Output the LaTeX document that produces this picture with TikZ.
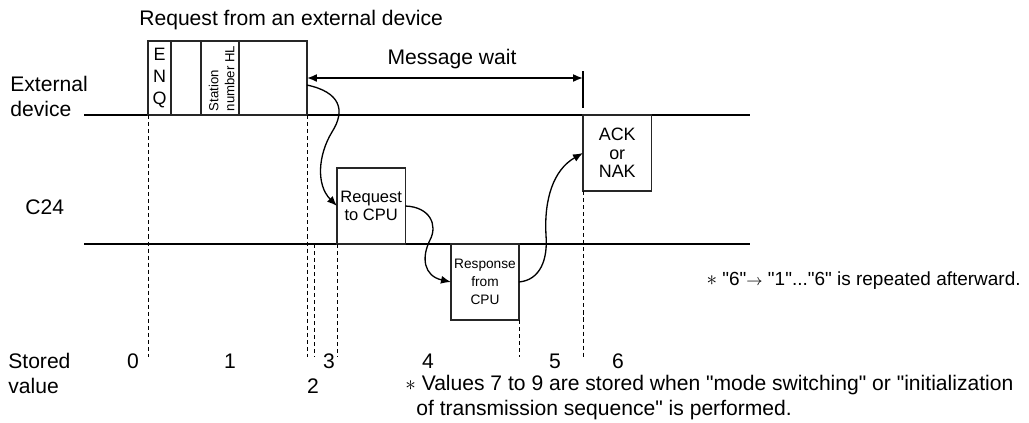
\documentclass[tikz,border=0pt]{standalone}
\usepackage{fontspec}
\setmainfont{Liberation Sans}[Ligatures=TeXOff]
\usetikzlibrary{arrows.meta,positioning}

\begin{document}
\begin{tikzpicture}[
    x=0.02cm, y=-0.02cm,
    font=\fontsize{12}{14.2}\selectfont,
    txt/.style={inner sep=0pt},
    tline/.style={line width=1.15pt},
    frame/.style={draw=black!85, line width=0.8pt, outer sep=0pt, inner sep=0pt,
                  minimum height=1.48cm},
    procbox/.style={draw=black!85, line width=0.8pt, outer sep=0pt, inner sep=0pt,
                    align=center, minimum width=1.37cm, minimum height=1.52cm},
    guide/.style={dash pattern=on 2.3pt off 1.7pt, line width=0.45pt},
    arr/.style={-{Latex[length=2mm,width=1.6mm]}, line width=0.75pt},
    waitarr/.style={{Latex[length=2mm,width=1.6mm]}-{Latex[length=2mm,width=1.6mm]},
                    line width=0.9pt}
]
\useasboundingbox (0,0) rectangle (1029,423);

% -- time lines
\draw[tline] (84,115) -- (750,115);
\draw[tline] (84,244) -- (750,244);

% -- left labels
\node[txt, anchor=west, align=left] (extlbl) at (10,96) {External\\device};
\node[txt, anchor=west] (c24lbl) at (25,207) {C24};
\node[txt, anchor=west, align=left] (storedlbl) at (8,373) {Stored\\value};

% -- request frame from the external device
\node[txt, anchor=west] (reqlbl) at (139,20) {Request from an external device};
\node[frame, anchor=south west, minimum width=0.46cm, align=center,
      font=\fontsize{10.2}{12.5}\selectfont] (fenq) at (148,115) {E\\N\\Q};
\node[frame, minimum width=0.6cm, right=0pt of fenq] (fsp1) {};
\node[frame, minimum width=0.76cm, right=0pt of fsp1] (fstn) {};
\node[frame, minimum width=1.36cm, right=0pt of fstn] (fsp2) {};
\node[txt, rotate=90, anchor=west, align=left,
      font=\fontsize{7.5}{9.1}\selectfont] (stntxt) at ([xshift=1pt,yshift=2pt]fstn.south)
  {Station\\number HL};

% -- message wait
\coordinate (waitend) at (583,78);
\node[txt] (waitlbl) at (452,59) {Message wait};
\draw[waitarr] (fsp2.east) -- (waitend);
\draw[line width=0.9pt] (waitend) ++(0,-7) -- ++(0,37);

% -- C24 and CPU boxes
\node[procbox, anchor=south west, font=\fontsize{9.4}{10.3}\selectfont] (reqcpu) at (337,244)
  {Request\\to CPU};
\node[procbox, anchor=north west, minimum width=1.36cm,
      font=\fontsize{7.8}{10.4}\selectfont] (respcpu) at (451,244)
  {Response\\from\\CPU};
\node[procbox, anchor=north west, font=\fontsize{10.2}{10.5}\selectfont] (ack) at (583,115)
  {ACK\\or\\NAK};

% -- flow arrows
\draw[arr] ([yshift=-4pt]fsp2.east) .. controls (340,92) and (346,110) .. (332,132)
  .. controls (318,155) and (316,185) .. (reqcpu.west);
\draw[arr] (reqcpu.east) .. controls (430,207) and (438,225) .. (430,240)
  .. controls (421,258) and (424,276) .. (respcpu.west);
\draw[arr] (respcpu.east) .. controls (540,280) and (548,260) .. (546,235)
  .. controls (544,200) and (553,170) .. (ack.west);

% -- guide lines
\coordinate (gbot) at (0,357);
\coordinate (gtwo) at (314,244);
\draw[guide] (fenq.south west) -- (fenq.south west |- gbot);
\draw[guide] (fsp2.south east) -- (fsp2.south east |- gbot);
\draw[guide] (gtwo) -- (gtwo |- gbot);
\draw[guide] (reqcpu.south west) -- (reqcpu.south west |- gbot);
\draw[guide] (respcpu.south east) -- (respcpu.south east |- gbot);
\draw[guide] (ack.south west) -- (ack.south west |- gbot);

% -- stored values
\node[txt] (sv0) at (133,361) {0};
\node[txt] (sv1) at (230,361) {1};
\node[txt] (sv2) at (313,386) {2};
\node[txt] (sv3) at (329,361) {3};
\node[txt] (sv4) at (428,361) {4};
\node[txt] (sv5) at (555,361) {5};
\node[txt] (sv6) at (618,361) {6};

% -- notes
\node[txt, anchor=east, font=\fontsize{10.8}{13}\selectfont] (repnote) at (1021,281)
  {{\large$\ast$} "6"{\small$\rightarrow$} "1"..."6" is repeated afterward.};
\node[txt, anchor=west, align=left] (valnote) at (405,398)
  {{\large$\ast$} Values 7 to 9 are stored when "mode switching" or "initialization\\
   \hspace*{0.22cm}of transmission sequence" is performed.};

\end{tikzpicture}
\end{document}
